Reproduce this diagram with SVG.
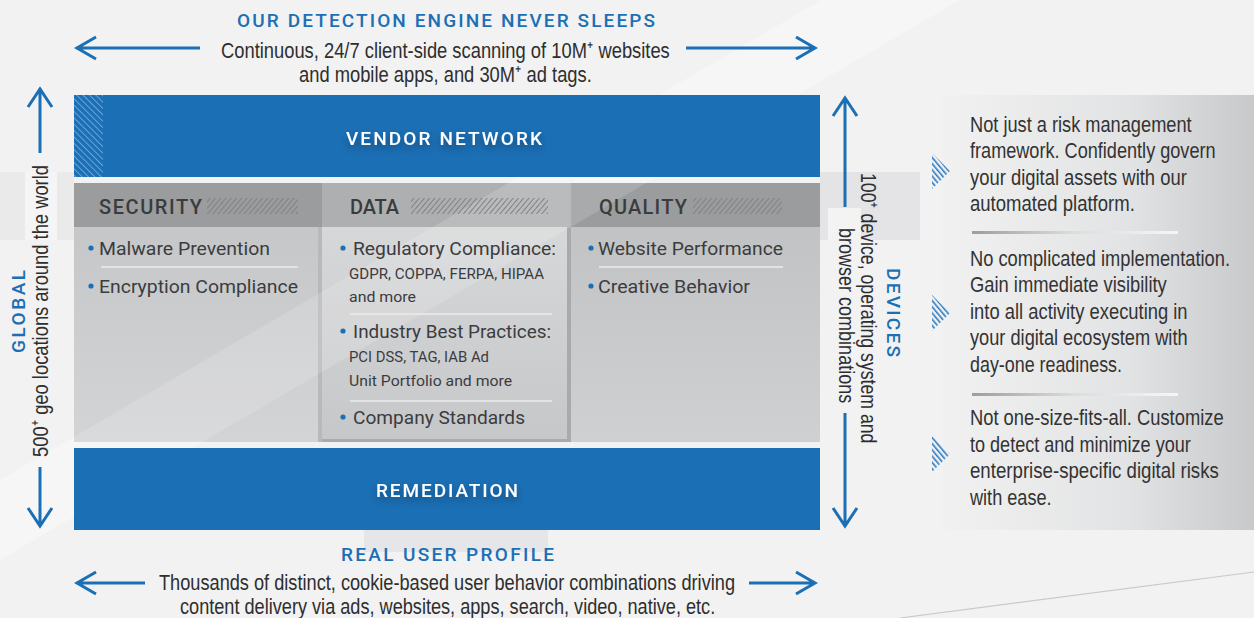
<svg xmlns="http://www.w3.org/2000/svg" width="1254" height="618" viewBox="0 0 1254 618">
<defs>
<style>
.arr{fill:none;stroke:#1b6fb5;stroke-width:3}
.cond{font-family:"Liberation Sans",Arial,sans-serif;font-size:22px;fill:#2e2e2e}
.head{font-family:Roboto,"Liberation Sans",sans-serif;font-weight:500;font-size:19px;fill:#1b6fb5}
.bar{font-family:Roboto,"Liberation Sans",sans-serif;font-weight:500;font-size:19px;fill:#ffffff}
.col{font-family:Roboto,"Noto Sans",sans-serif;font-size:19px;fill:#3b3c3e}
.sub{font-family:Roboto,"Noto Sans",sans-serif;font-size:15px;fill:#3b3c3e}
.colh{font-family:Roboto,"Liberation Sans",sans-serif;font-weight:500;font-size:20px;fill:#3a3b3d}
.dot{fill:#1b6fb5}
.sep{stroke:#ebebec;stroke-width:1.5}
.rp{font-family:"Liberation Sans",Arial,sans-serif;font-size:22px;fill:#333333}
</style>
<pattern id="vh" width="4.5" height="4.5" patternUnits="userSpaceOnUse" patternTransform="rotate(-45)">
<rect width="4.5" height="4.5" fill="#1b6fb5"/><rect width="1" height="4.5" fill="#6aa5d8"/>
</pattern>
<pattern id="gh" width="4" height="4" patternUnits="userSpaceOnUse" patternTransform="rotate(40)">
<rect width="1" height="4" fill="#808285"/>
</pattern>
<pattern id="bh" width="4" height="4" patternUnits="userSpaceOnUse" patternTransform="rotate(-40)">
<rect width="1.6" height="4" fill="#2f7cc0"/>
</pattern>
<linearGradient id="secg" x1="0" y1="0" x2="0" y2="1"><stop offset="0" stop-color="#c3c4c6"/><stop offset="1" stop-color="#d3d4d6"/></linearGradient>
<linearGradient id="datg" x1="0" y1="0" x2="0" y2="1"><stop offset="0" stop-color="#dadbdc"/><stop offset="1" stop-color="#c6c7c9"/></linearGradient>
<linearGradient id="quag" x1="0" y1="0" x2="0" y2="1"><stop offset="0" stop-color="#bfc0c2"/><stop offset="1" stop-color="#cfd0d2"/></linearGradient>
<linearGradient id="rpg" x1="0" y1="0" x2="1" y2="0"><stop offset="0" stop-color="#f1f1f1"/><stop offset="0.6" stop-color="#e2e3e4"/><stop offset="1" stop-color="#c8c9cb"/></linearGradient>
<linearGradient id="rsep" x1="0" y1="0" x2="1" y2="0"><stop offset="0" stop-color="#9c9d9f"/><stop offset="0.5" stop-color="#dddddd"/><stop offset="1" stop-color="#f6f6f6"/></linearGradient>
<filter id="sh" x="-20%" y="-50%" width="140%" height="250%"><feDropShadow dx="0" dy="4" stdDeviation="4" flood-color="#000" flood-opacity="0.35"/></filter>
<clipPath id="pc"><rect x="74" y="183" width="746" height="259"/></clipPath>
</defs>

<g id="background">
<rect width="1254" height="618" fill="#f2f2f2"/>
<polygon points="821,0 960,0 0,560 0,480" fill="#ffffff" opacity="0.3"/>
<rect x="0" y="172" width="74" height="68" fill="#eaeaea"/>
<rect x="25" y="172" width="32" height="68" fill="#f5f5f5"/>
<rect x="820" y="172" width="100" height="68" fill="#e4e4e6"/>
<rect x="828" y="208" width="33" height="32" fill="#f3f3f3"/>
<rect x="364" y="530" width="184" height="22" fill="#e6e6e8"/>
<line x1="900" y1="618" x2="1254" y2="572" stroke="#c9c9c9" stroke-width="1.2"/>
</g>

<g id="vendor-network">
<rect x="74" y="95" width="746" height="82" fill="#1b6fb5"/>
<rect x="74" y="95" width="29" height="82" fill="url(#vh)"/>
<text class="bar" x="346" y="145" textLength="196" lengthAdjust="spacing" filter="url(#sh)">VENDOR NETWORK</text>
</g>

<g id="panel">
<rect x="74" y="183" width="248" height="259" fill="url(#secg)"/>
<rect x="322" y="183" width="249" height="259" fill="url(#datg)"/>
<rect x="571" y="183" width="249" height="259" fill="url(#quag)"/>
<rect x="74" y="183" width="248" height="44" fill="#9a9c9e"/>
<rect x="322" y="183" width="249" height="44" fill="#adafb1"/>
<rect x="571" y="183" width="249" height="44" fill="#9a9c9e"/>
<rect x="567" y="227" width="4" height="215" fill="#a9aaac"/>
<rect x="318" y="227" width="4" height="215" fill="#b8b9bb"/>
<rect x="322" y="439" width="249" height="3" fill="#a9aaac"/>
<polygon points="821,0 960,0 0,560 0,480" fill="#ffffff" opacity="0.15" clip-path="url(#pc)"/>
</g>

<g id="security">
<text class="colh" x="99" y="214" textLength="103" lengthAdjust="spacing">SECURITY</text>
<rect x="207" y="198" width="91" height="16" fill="url(#gh)"/>
<circle class="dot" cx="91" cy="248" r="2.6"/>
<text class="col" x="99" y="255" textLength="171" lengthAdjust="spacingAndGlyphs">Malware Prevention</text>
<line class="sep" x1="101" y1="267" x2="298" y2="267"/>
<circle class="dot" cx="91" cy="286" r="2.6"/>
<text class="col" x="99" y="293" textLength="199" lengthAdjust="spacingAndGlyphs">Encryption Compliance</text>
</g>

<g id="data">
<text class="colh" x="350" y="214" textLength="49" lengthAdjust="spacing">DATA</text>
<rect x="411" y="198" width="137" height="16" fill="url(#gh)"/>
<circle class="dot" cx="343" cy="248" r="2.6"/>
<text class="col" x="353" y="255" textLength="203" lengthAdjust="spacingAndGlyphs">Regulatory Compliance:</text>
<text class="sub" x="349" y="279" textLength="195" lengthAdjust="spacingAndGlyphs">GDPR, COPPA, FERPA, HIPAA</text>
<text class="sub" x="349" y="302" textLength="67" lengthAdjust="spacingAndGlyphs">and more</text>
<line class="sep" x1="350" y1="314" x2="552" y2="314"/>
<circle class="dot" cx="343" cy="331" r="2.6"/>
<text class="col" x="353" y="338" textLength="198" lengthAdjust="spacingAndGlyphs">Industry Best Practices:</text>
<text class="sub" x="349" y="362" textLength="140" lengthAdjust="spacingAndGlyphs">PCI DSS, TAG, IAB Ad</text>
<text class="sub" x="349" y="386" textLength="163" lengthAdjust="spacingAndGlyphs">Unit Portfolio and more</text>
<line class="sep" x1="350" y1="401" x2="552" y2="401"/>
<circle class="dot" cx="343" cy="417" r="2.6"/>
<text class="col" x="353" y="424" textLength="172" lengthAdjust="spacingAndGlyphs">Company Standards</text>
</g>

<g id="quality">
<text class="colh" x="599" y="214" textLength="88" lengthAdjust="spacing">QUALITY</text>
<rect x="693" y="198" width="89" height="16" fill="url(#gh)"/>
<circle class="dot" cx="591" cy="248" r="2.6"/>
<text class="col" x="598" y="255" textLength="185" lengthAdjust="spacingAndGlyphs">Website Performance</text>
<line class="sep" x1="599" y1="267" x2="783" y2="267"/>
<circle class="dot" cx="591" cy="286" r="2.6"/>
<text class="col" x="598" y="293" textLength="152" lengthAdjust="spacingAndGlyphs">Creative Behavior</text>
</g>

<g id="remediation">
<rect x="74" y="448" width="746" height="82" fill="#1b6fb5"/>
<text class="bar" x="376" y="497" textLength="142" lengthAdjust="spacing" filter="url(#sh)">REMEDIATION</text>
</g>

<g id="top-label">
<text class="head" x="237" y="27" textLength="418" lengthAdjust="spacing">OUR DETECTION ENGINE NEVER SLEEPS</text>
<text class="cond" transform="translate(221,58) scale(0.8,1)" textLength="561" lengthAdjust="spacingAndGlyphs">Continuous, 24/7 client-side scanning of 10M⁺ websites</text>
<text class="cond" transform="translate(299,82) scale(0.8,1)" textLength="366" lengthAdjust="spacingAndGlyphs">and mobile apps, and 30M⁺ ad tags.</text>
</g>

<g id="bottom-label">
<text class="head" x="341" y="561" textLength="213" lengthAdjust="spacing">REAL USER PROFILE</text>
<text class="cond" transform="translate(159,590) scale(0.8,1)" textLength="720" lengthAdjust="spacingAndGlyphs">Thousands of distinct, cookie-based user behavior combinations driving</text>
<text class="cond" transform="translate(180,614) scale(0.8,1)" textLength="669" lengthAdjust="spacingAndGlyphs">content delivery via ads, websites, apps, search, video, native, etc.</text>
</g>

<g id="left-label">
<text class="head" font-size="21" transform="translate(25,353) rotate(-90)" textLength="83" lengthAdjust="spacing">GLOBAL</text>
<text class="cond" transform="translate(48,457) rotate(-90) scale(0.8,1)" textLength="365" lengthAdjust="spacingAndGlyphs">500⁺ geo locations around the world</text>
</g>

<g id="right-label">
<text class="head" font-size="21" transform="translate(887,268) rotate(90)" textLength="89" lengthAdjust="spacing">DEVICES</text>
<text class="cond" transform="translate(861,173) rotate(90) scale(0.8,1)" textLength="338" lengthAdjust="spacingAndGlyphs">100⁺ device, operating system and</text>
<text class="cond" transform="translate(839,228) rotate(90) scale(0.8,1)" textLength="219" lengthAdjust="spacingAndGlyphs">browser combinations</text>
</g>

<g id="connectors">
<path class="arr" d="M76,48 H200 M96,37 L77,48 L96,59"/>
<path class="arr" d="M686,48 H815 M796,37 L815,48 L796,59"/>
<path class="arr" d="M76,583 H145 M96,572 L77,583 L96,594"/>
<path class="arr" d="M749,583 H815 M796,572 L815,583 L796,594"/>
<path class="arr" d="M40,89 V153 M28,107 L40,89 L52,107"/>
<path class="arr" d="M40,467 V526 M28,508 L40,526 L52,508"/>
<path class="arr" d="M845,98 V207 M833,116 L845,98 L857,116"/>
<path class="arr" d="M845,413 V526 M833,508 L845,526 L857,508"/>
</g>

<g id="right-panel">
<rect x="941" y="95" width="313" height="435" fill="url(#rpg)"/>
<polygon points="932,153 950,171 932,189" fill="url(#bh)"/>
<polygon points="932,295 950,313 932,331" fill="url(#bh)"/>
<polygon points="932,436 950,454 932,472" fill="url(#bh)"/>
<rect x="972" y="231" width="206" height="3" fill="url(#rsep)"/>
<rect x="972" y="393" width="206" height="3" fill="url(#rsep)"/>
<g transform="translate(970,0) scale(0.8,1)">
<text class="rp" x="0" y="132" textLength="277" lengthAdjust="spacingAndGlyphs">Not just a risk management</text>
<text class="rp" x="0" y="158" textLength="307" lengthAdjust="spacingAndGlyphs">framework. Confidently govern</text>
<text class="rp" x="0" y="185" textLength="271" lengthAdjust="spacingAndGlyphs">your digital assets with our</text>
<text class="rp" x="0" y="211" textLength="206" lengthAdjust="spacingAndGlyphs">automated platform.</text>
<text class="rp" x="0" y="266" textLength="325" lengthAdjust="spacingAndGlyphs">No complicated implementation.</text>
<text class="rp" x="0" y="292" textLength="246" lengthAdjust="spacingAndGlyphs">Gain immediate visibility</text>
<text class="rp" x="0" y="319" textLength="272" lengthAdjust="spacingAndGlyphs">into all activity executing in</text>
<text class="rp" x="0" y="345" textLength="272" lengthAdjust="spacingAndGlyphs">your digital ecosystem with</text>
<text class="rp" x="0" y="372" textLength="190" lengthAdjust="spacingAndGlyphs">day-one readiness.</text>
<text class="rp" x="0" y="425" textLength="317" lengthAdjust="spacingAndGlyphs">Not one-size-fits-all. Customize</text>
<text class="rp" x="0" y="452" textLength="276" lengthAdjust="spacingAndGlyphs">to detect and minimize your</text>
<text class="rp" x="0" y="478" textLength="311" lengthAdjust="spacingAndGlyphs">enterprise-specific digital risks</text>
<text class="rp" x="0" y="505" textLength="102" lengthAdjust="spacingAndGlyphs">with ease.</text>
</g>
</g>
</svg>
